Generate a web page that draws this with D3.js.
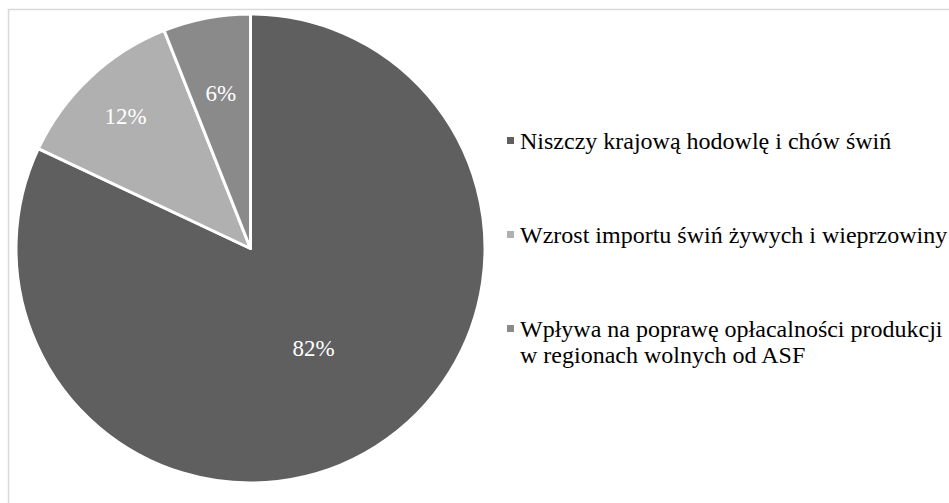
<!doctype html>
<html>
<head>
<meta charset="utf-8">
<title>pie</title>
<style>
  body { margin: 0; background: #fff; }
</style>
</head>
<body>
<div id="chart"></div>
<script src="https://d3js.org/d3.v7.min.js"></script>
<script>
// ---------- data
var categories = ["Niszczy krajową hodowlę i chów świń",
                  "Wzrost importu świń żywych i wieprzowiny",
                  "Wpływa na poprawę opłacalności produkcji|w regionach wolnych od ASF"];
var values = [82, 12, 6];
var colors = ["#5f5f5f", "#b0b0b0", "#8a8a8a"];
var labelPos = [0.503, 0.778, 0.674];   // label radius as fraction of pie radius

var width = 949, height = 503;
var cx = 250.5, cy = 248.5, radius = 234.5;

var svg = d3.select("#chart").append("svg")
    .attr("width", width)
    .attr("height", height)
    .attr("font-family", "Liberation Serif");

// chart frame (right / bottom edges run off the picture)
svg.append("rect")
    .attr("x", 8.5).attr("y", 9.5)
    .attr("width", 960).attr("height", 520)
    .attr("fill", "none")
    .attr("stroke", "#d9d9d9")
    .attr("stroke-width", 1.5);

var pie = d3.pie().sort(null).value(function(d){ return d; });
var arc = d3.arc().innerRadius(0).outerRadius(radius);
var arcs = pie(values);

var g = svg.append("g").attr("transform", "translate(" + cx + "," + cy + ")");

g.selectAll("path").data(arcs).enter()
    .append("path")
    .attr("d", arc)
    .attr("fill", function(d, i){ return colors[i]; })
    .attr("stroke", "#fff")
    .attr("stroke-width", 3)
    .attr("stroke-linejoin", "round");

g.selectAll("text.pct").data(arcs).enter()
    .append("text")
    .attr("class", "pct")
    .attr("transform", function(d, i){
        var m = (d.startAngle + d.endAngle) / 2;
        var r = radius * labelPos[i];
        return "translate(" + (Math.sin(m) * r) + "," + (-Math.cos(m) * r) + ")";
    })
    .attr("text-anchor", "middle")
    .attr("dy", "0.35em")
    .attr("fill", "#fff")
    .attr("font-family", "Liberation Serif")
    .attr("font-size", 23)
    .text(function(d){ return d.data + "%"; });

// ---------- legend (y = text baseline of first line)
var legendY = d3.scalePoint().domain(d3.range(categories.length)).range([149, 337]);

var legend = svg.append("g").attr("class", "legend");
var items = legend.selectAll("g").data(categories).enter()
    .append("g")
    .attr("transform", function(d, i){ return "translate(507," + legendY(i) + ")"; });

items.append("rect")
    .attr("x", 0).attr("y", -12)
    .attr("width", 7).attr("height", 7)
    .attr("fill", function(d, i){ return colors[i]; });

items.append("text")
    .attr("font-family", "Liberation Serif")
    .attr("font-size", 24)
    .attr("fill", "#000")
    .each(function(d){
        var lines = d.split("|");
        var t = d3.select(this);
        lines.forEach(function(l, j){
            t.append("tspan").attr("x", 13).attr("dy", j === 0 ? 0 : 26).text(l);
        });
    });
</script>
</body>
</html>
